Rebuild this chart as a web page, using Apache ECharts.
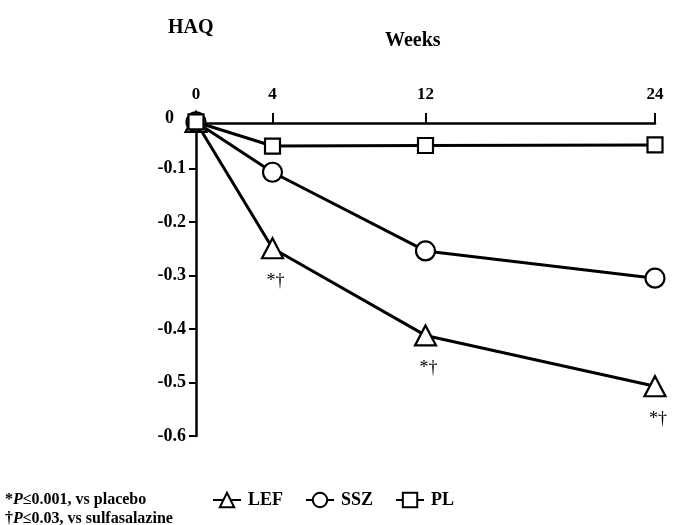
<!DOCTYPE html>
<html>
<head>
<meta charset="utf-8">
<script src="https://cdn.jsdelivr.net/npm/echarts@6/dist/echarts.min.js"></script>
<style>html,body{margin:0;padding:0;background:#fff}#c{width:682px;height:525px}</style>
</head>
<body>
<div id="c"></div>
<script>
var weeks = [0, 4, 12, 24];
var weekTicks = [0, 4, 12, 24];
var lef = [-0.013, -0.249, -0.412, -0.507];
var ssz = [-0.013, -0.107, -0.254, -0.305];
var pl = [-0.013, -0.058, -0.057, -0.056];
var lefMarks = ['', '*\u2020', '*\u2020', '*\u2020'];
var yTicks = [-0.6, -0.5, -0.4, -0.3, -0.2, -0.1, 0];
var footnotes = ['{s|*}{i|P}{s|\u22640.001, vs placebo}', '{s|\u2020}{i|P}{s|\u22640.03, vs sulfasalazine}'];

var FONT = '"Liberation Serif", "Times New Roman", serif';
function pairs(vals, marks) {
  return vals.map(function (v, i) {
    var d = { value: [weeks[i], v] };
    if (marks && marks[i]) {
      d.label = { show: true, formatter: marks[i] };
    }
    return d;
  });
}
var common = {
  type: 'line',
  lineStyle: { color: '#000', width: 3 },
  itemStyle: { color: '#fff', borderColor: '#000', borderWidth: 2.2 },
  emphasis: { disabled: true },
  animation: false
};
var chart = echarts.init(document.getElementById('c'), null, { renderer: 'canvas' });
chart.setOption({
  backgroundColor: '#fff',
  animation: false,
  grid: { left: 196, right: 27, top: 115, bottom: 89, containLabel: false },
  xAxis: {
    type: 'value', min: 0, max: 24, position: 'top', offset: -8,
    axisLine: { lineStyle: { color: '#000', width: 2.5 } },
    axisTick: { show: true, length: 10, lineStyle: { color: '#000', width: 2 }, customValues: weekTicks },
    axisLabel: { color: '#000', fontFamily: FONT, fontWeight: 'bold', fontSize: 17, margin: 20, customValues: weekTicks },
    splitLine: { show: false }
  },
  yAxis: {
    type: 'value', min: -0.6, max: 0, interval: 0.1,
    axisLine: { show: true, lineStyle: { color: '#000', width: 2.5 } },
    axisTick: { show: true, length: 7, lineStyle: { color: '#000', width: 2 }, customValues: yTicks.slice(0, 6) },
    axisLabel: { color: '#000', fontFamily: FONT, fontWeight: 'bold', fontSize: 18, margin: 10, customValues: yTicks,
      formatter: function (v) { return v === 0 ? '{z|0}' : v.toFixed(1); },
      rich: { z: { fontFamily: FONT, fontWeight: 'bold', fontSize: 18, color: '#000', padding: [6, 12, 0, 0] } } },
    splitLine: { show: false }
  },
  legend: {
    left: 212, top: 491, padding: 0, itemWidth: 28, itemHeight: 18, itemGap: 22,
    textStyle: { color: '#000', fontFamily: FONT, fontWeight: 'bold', fontSize: 18, padding: [0, 0, 0, 2] },
    data: ['LEF', 'SSZ', 'PL']
  },
  graphic: [
    { type: 'text', left: 168, top: 18, style: { text: 'HAQ', font: 'bold 20px ' + FONT, fill: '#000' } },
    { type: 'text', left: 385, top: 31, style: { text: 'Weeks', font: 'bold 20px ' + FONT, fill: '#000' } },
    { type: 'text', left: 5, top: 490, style: { text: footnotes.join('\n'), fill: '#000', lineHeight: 19,
      rich: { s: { font: 'bold 16px ' + FONT, fill: '#000', lineHeight: 19 }, i: { font: 'italic bold 16px ' + FONT, fill: '#000', lineHeight: 19 } } } }
  ],
  series: [
    Object.assign({}, common, { name: 'LEF', symbol: 'triangle', symbolSize: [21, 20], data: pairs(lef, lefMarks),
      label: { show: false, position: 'bottom', distance: 13, offset: [3, 0], color: '#000', fontFamily: FONT, fontSize: 18 } }),
    Object.assign({}, common, { name: 'SSZ', symbol: 'circle', symbolSize: 19, data: pairs(ssz) }),
    Object.assign({}, common, { name: 'PL', symbol: 'rect', symbolSize: 15, data: pairs(pl) })
  ]
});
</script>
</body>
</html>
